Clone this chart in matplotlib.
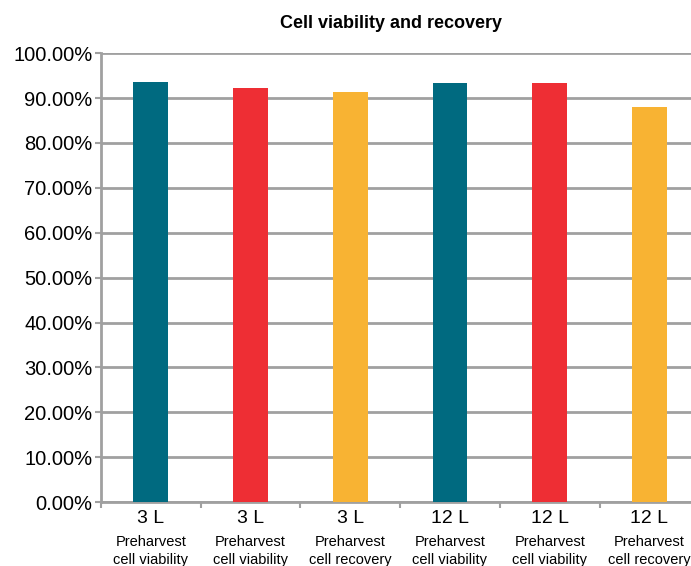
import numpy as np
import matplotlib.pyplot as plt
from matplotlib.transforms import blended_transform_factory

# Data
volumes = ["3 L", "3 L", "3 L", "12 L", "12 L", "12 L"]
measures = ["Preharvest\ncell viability", "Preharvest\ncell viability",
            "Preharvest\ncell recovery", "Preharvest\ncell viability",
            "Preharvest\ncell viability", "Preharvest\ncell recovery"]
values = [93.5, 92.2, 91.3, 93.3, 93.3, 88.0]
colors = ["#006a80", "#ee2e34", "#f8b333", "#006a80", "#ee2e34", "#f8b333"]

plt.rcParams['font.family'] = ['Liberation Sans', 'DejaVu Sans']

fig = plt.figure(figsize=(6.91, 5.66), dpi=100)
ax = fig.add_axes([0.146, 0.113, 0.866, 0.793])

x = np.arange(len(values))
ax.bar(x, values, width=0.35, color=colors, zorder=3)

ax.set_xlim(-0.5, len(values) - 0.5)
ax.set_ylim(0, 100)
ax.set_yticks(np.arange(0, 101, 10))
ax.set_yticklabels([f"{v:.2f}%" for v in np.arange(0, 101, 10)], fontsize=14.5)
ax.yaxis.grid(True, color="#a0a0a0", linewidth=2, zorder=0)
ax.tick_params(axis="y", length=4, width=1.5, color="#a0a0a0", pad=2)

# category boundary ticks on the x axis
ax.set_xticks(np.arange(-0.5, len(values) - 0.4, 1))
ax.set_xticklabels([])
ax.tick_params(axis="x", length=4, width=1.5, color="#a0a0a0", direction="out")

for s in ["top", "right"]:
    ax.spines[s].set_visible(False)
for s in ["left", "bottom"]:
    ax.spines[s].set_color("#a0a0a0")
    ax.spines[s].set_linewidth(2)

trans = blended_transform_factory(ax.transData, ax.transAxes)
for xi, vol, mea in zip(x, volumes, measures):
    ax.text(xi, -0.018, vol, transform=trans, ha="center", va="top", fontsize=14)
    ax.text(xi, -0.073, mea, transform=trans, ha="center", va="top",
            fontsize=10.5, linespacing=1.35)

fig.text(0.566, 0.958, "Cell viability and recovery", ha="center", va="center",
         fontsize=13, fontweight="bold")

fig.savefig("out.png", dpi=100)
